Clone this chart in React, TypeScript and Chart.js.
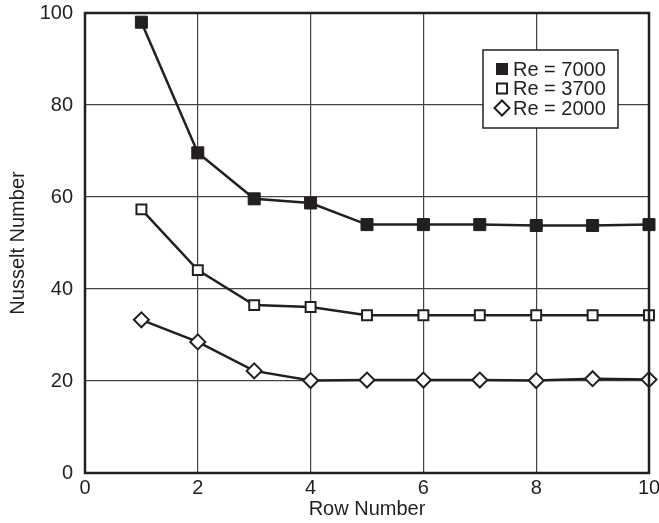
import React, { useEffect, useRef } from "react";
import { Chart, registerables } from "chart.js";

Chart.register(...registerables);

const rows = [1, 2, 3, 4, 5, 6, 7, 8, 9, 10];
const re7000 = [98, 69.6, 59.6, 58.7, 54, 54, 54, 53.8, 53.8, 54];
const re3700 = [57.3, 44.1, 36.5, 36.1, 34.3, 34.3, 34.3, 34.3, 34.3, 34.3];
const re2000 = [33.3, 28.5, 22.2, 20.1, 20.2, 20.2, 20.2, 20.1, 20.5, 20.3];
const seriesLabels = ["Re = 7000", "Re = 3700", "Re = 2000"];
const xTitle = "Row Number";
const yTitle = "Nusselt Number";

const INK = "#231f20";
const FONT = "'Liberation Sans', Arial, sans-serif";

const toPts = (vals: number[]) => vals.map((v, i) => ({ x: rows[i], y: v }));

const frameAndLegend = {
  id: "frameAndLegend",
  afterDraw(chart: any) {
    const { ctx, chartArea: ca } = chart;
    ctx.save();
    // plot frame
    ctx.strokeStyle = INK;
    ctx.lineWidth = 2.5;
    ctx.strokeRect(ca.left, ca.top, ca.right - ca.left, ca.bottom - ca.top);

    // legend box
    const bw = 135, bh = 78;
    const bx = ca.right - 31 - bw;
    const by = ca.top + 37;
    ctx.fillStyle = "#ffffff";
    ctx.fillRect(bx, by, bw, bh);
    ctx.lineWidth = 1.5;
    ctx.strokeStyle = INK;
    ctx.strokeRect(bx, by, bw, bh);

    const styles = ["fill", "open", "diamond"];
    chart.data.datasets.forEach((ds: any, i: number) => {
      const cy = by + 19 + i * 19.5;
      const cx = bx + 19;
      ctx.lineWidth = 2;
      ctx.strokeStyle = INK;
      if (styles[i] === "fill") {
        ctx.fillStyle = INK;
        ctx.fillRect(cx - 6, cy - 6, 12, 12);
      } else if (styles[i] === "open") {
        ctx.fillStyle = "#fff";
        ctx.fillRect(cx - 5, cy - 5, 10, 10);
        ctx.strokeRect(cx - 5, cy - 5, 10, 10);
      } else {
        ctx.beginPath();
        ctx.moveTo(cx - 7.5, cy);
        ctx.lineTo(cx, cy - 7.5);
        ctx.lineTo(cx + 7.5, cy);
        ctx.lineTo(cx, cy + 7.5);
        ctx.closePath();
        ctx.fillStyle = "#fff";
        ctx.fill();
        ctx.stroke();
      }
      ctx.fillStyle = INK;
      ctx.font = `20px ${FONT}`;
      ctx.textBaseline = "middle";
      ctx.textAlign = "left";
      ctx.fillText(ds.label, bx + 30, cy + 1);
    });
    ctx.restore();
  },
};

const zeroPad = (scale: any) => {
  scale.paddingLeft = 0;
  scale.paddingRight = 0;
  scale.paddingTop = 0;
  scale.paddingBottom = 0;
};

export default function App() {
  const ref = useRef<HTMLCanvasElement | null>(null);

  useEffect(() => {
    document.body.style.margin = "0";
    if (!ref.current) return;
    const common = {
      borderColor: INK,
      borderWidth: 2.5,
      pointBorderColor: INK,
      showLine: true,
      tension: 0,
      clip: false as any,
    };
    const chart = new Chart(ref.current, {
      type: "scatter",
      data: {
        datasets: [
          {
            ...common,
            label: seriesLabels[0],
            data: toPts(re7000),
            pointStyle: "rect",
            pointRadius: 8.5,
            pointBackgroundColor: INK,
            pointBorderWidth: 1,
          },
          {
            ...common,
            label: seriesLabels[1],
            data: toPts(re3700),
            pointStyle: "rect",
            pointRadius: 7,
            pointBackgroundColor: "#ffffff",
            pointBorderWidth: 2,
          },
          {
            ...common,
            label: seriesLabels[2],
            data: toPts(re2000),
            pointStyle: "rectRot",
            pointRadius: 7.5,
            pointBackgroundColor: "#ffffff",
            pointBorderWidth: 2,
          },
        ],
      },
      options: {
        responsive: false,
        animation: false,
        layout: { padding: { left: 0, right: 10, top: 13, bottom: 0 } },
        plugins: {
          legend: { display: false },
          tooltip: { enabled: false },
        },
        scales: {
          x: {
            type: "linear",
            min: 0,
            max: 10,
            ticks: {
              stepSize: 2,
              color: INK,
              padding: 3,
              font: { family: FONT, size: 20 },
            },
            grid: { color: "#444", lineWidth: 1.2, drawTicks: false },
            border: { display: false },
            title: {
              display: true,
              text: xTitle,
              color: INK,
              font: { family: FONT, size: 20 },
              padding: { top: 0, bottom: 2 },
            },
            afterFit(scale: any) {
              scale.height = 50;
              zeroPad(scale);
            },
          },
          y: {
            type: "linear",
            min: 0,
            max: 100,
            ticks: {
              stepSize: 20,
              color: INK,
              padding: 12,
              font: { family: FONT, size: 20 },
            },
            grid: { color: "#444", lineWidth: 1.2, drawTicks: false },
            border: { display: false },
            title: {
              display: true,
              text: yTitle,
              color: INK,
              font: { family: FONT, size: 20 },
              padding: { top: 6, bottom: 0 },
            },
            afterFit(scale: any) {
              scale.width = 85;
              zeroPad(scale);
            },
          },
        },
      },
      plugins: [frameAndLegend],
    });
    return () => chart.destroy();
  }, []);

  return (
    <div style={{ position: "fixed", left: 0, top: 0, width: 659, height: 523, background: "#fff" }}>
      <canvas ref={ref} width={659} height={523} />
    </div>
  );
}
